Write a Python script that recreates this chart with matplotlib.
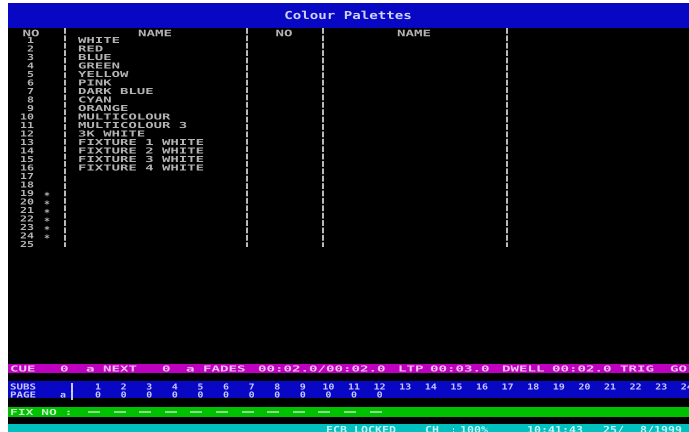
import matplotlib
matplotlib.use("Agg")
import matplotlib.pyplot as plt
from matplotlib.textpath import TextPath
from matplotlib.patches import PathPatch, Rectangle
from matplotlib.font_manager import FontProperties
from matplotlib.transforms import Affine2D

# screen contents
title = "Colour Palettes"
headers = [("NO", 31), ("NAME", 155), ("NO", 284), ("NAME", 414)]
palette_numbers = list(range(1, 26))
palette_names = ["WHITE", "RED", "BLUE", "GREEN", "YELLOW", "PINK", "DARK BLUE",
                 "CYAN", "ORANGE", "MULTICOLOUR", "MULTICOLOUR 3", "3K WHITE",
                 "FIXTURE 1 WHITE", "FIXTURE 2 WHITE", "FIXTURE 3 WHITE",
                 "FIXTURE 4 WHITE"]
flagged = [19, 20, 21, 22, 23, 24]
separators = [65, 247, 323, 507]

cue_line = [("CUE", 10), ("0", 60), ("a", 86), ("NEXT", 103), ("0", 162),
            ("a", 186), ("FADES", 203), ("00:02.0/00:02.0", 258), ("LTP", 398),
            ("00:03.0", 430), ("DWELL", 502), ("00:02.0", 552), ("TRIG", 620),
            ("GO", 670)]
sub_numbers = list(range(1, 25))
sub_pages = ["0", "0", "0", "0", "0", "0", "0", "0", "0", "0", "0", "0"]
fix_slots = 12
status_line = [("ECB", 326), ("LOCKED", 354), ("CH", 425), (":", 450),
               ("100%", 460), ("10:41:43", 527), ("25/", 603), ("8/1999", 640)]

FP = FontProperties(family="DejaVu Sans Mono", weight="bold")
ADV = 0.602   # glyph advance at size 1
CAP = 0.729   # cap height at size 1


def put(ax, s, x, y, cw=8.4, ch=6.0, color="#c8c8c8", ha="left"):
    # y = vertical middle of the capitals, screen pixels growing downwards
    w = len(s) * cw
    if ha == "center":
        x -= w / 2
    elif ha == "right":
        x -= w
    tp = TextPath((0, 0), s, size=1, prop=FP)
    tr = Affine2D().scale(cw / ADV, -ch / CAP).translate(x, y + ch / 2)
    ax.add_patch(PathPatch(tr.transform_path(tp), fc=color, ec="none", lw=0, alpha=0.9))


fig = plt.figure(figsize=(6.89, 4.32), dpi=100, facecolor="white")
ax = fig.add_axes([0, 0, 1, 1])
ax.set_xlim(0, 689)
ax.set_ylim(432, 0)
ax.axis("off")

# screen + bars
ax.add_patch(Rectangle((8, 3), 681, 429, fc="black", ec="none"))
ax.add_patch(Rectangle((8, 3), 681, 25, fc="#0808c4", ec="none"))
ax.add_patch(Rectangle((8, 364), 681, 9, fc="#c000c0", ec="none"))
ax.add_patch(Rectangle((8, 381), 681, 17, fc="#0808c4", ec="none"))
ax.add_patch(Rectangle((8, 407), 681, 10, fc="#00c000", ec="none"))
ax.add_patch(Rectangle((8, 424), 681, 8, fc="#00c0c0", ec="none"))

put(ax, title, 348, 15, cw=8.5, ch=8.0, color="#e8e8ff", ha="center")

for txt, xc in headers:
    put(ax, txt, xc, 33, cw=8.5, ch=6.5, ha="center")

ax.vlines(separators, 28, 247, colors="#c0c0c0", lw=1.4, linestyles=(0, (3, 0.8)))


def row_y(r):
    return 40 + (r - 1) * 8.5


for n in palette_numbers:
    put(ax, str(n), 34, row_y(n), cw=7.0, ch=6.0, ha="right")
for i, name in enumerate(palette_names):
    put(ax, name, 78, row_y(i + 1), cw=8.4, ch=6.0)
for r in flagged:
    put(ax, "*", 47, row_y(r) + 2.5, cw=6.0, ch=7.0, ha="center")

# cue status bar
for txt, x in cue_line:
    put(ax, txt, x, 368.5, cw=8.5, ch=6.0, color="#f0d8f0")

# subs / page bar
put(ax, "SUBS", 10, 386.5, cw=6.5, ch=6.0, color="#dcdcff")
put(ax, "PAGE", 10, 394.5, cw=6.5, ch=6.0, color="#dcdcff")
put(ax, "a", 63, 394.5, cw=6.0, ch=6.0, color="#dcdcff", ha="center")
put(ax, "|", 72, 386.5, cw=6.0, ch=7.0, color="#dcdcff", ha="center")
put(ax, "|", 72, 394.5, cw=6.0, ch=7.0, color="#dcdcff", ha="center")
for i, n in enumerate(sub_numbers):
    put(ax, str(n), 98 + i * 25.6, 386.5, cw=6.0, ch=6.0, color="#dcdcff", ha="center")
for i, p in enumerate(sub_pages):
    put(ax, p, 98 + i * 25.6, 394.5, cw=6.0, ch=6.0, color="#dcdcff", ha="center")

# fixture bar
put(ax, "FIX NO :", 10, 412, cw=7.8, ch=6.0, color="#dcf8dc")
for k in range(fix_slots):
    xc = 94 + k * 25.6
    ax.hlines(412, xc - 6, xc + 6, colors="#a8dca8", lw=1.2)

# lock / clock bar
for txt, x in status_line:
    put(ax, txt, x, 429.5, cw=7.0, ch=7.0, color="#d8ffff")

fig.savefig("out.png", dpi=100, facecolor="white")
